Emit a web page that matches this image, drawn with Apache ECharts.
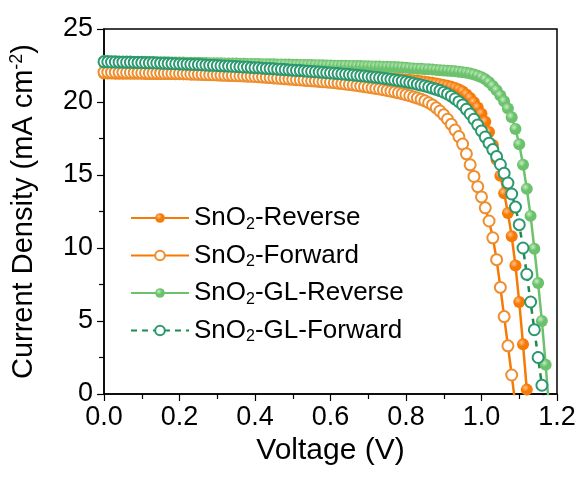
<!DOCTYPE html>
<html>
<head>
<meta charset="utf-8">
<script src="https://cdn.jsdelivr.net/npm/echarts@6/dist/echarts.min.js"></script>
<style>
  html, body { margin: 0; padding: 0; background: #fff; }
  #chart { width: 582px; height: 477px; }
</style>
</head>
<body>
<div id="chart"></div>
<script>
// voltage sweep (V), shared by all four scans
const voltage = [
    0.00, 0.01, 0.02, 0.03, 0.04, 0.05, 0.06, 0.07, 0.08, 0.09,
    0.10, 0.11, 0.12, 0.13, 0.14, 0.15, 0.16, 0.17, 0.18, 0.19,
    0.20, 0.21, 0.22, 0.23, 0.24, 0.25, 0.26, 0.27, 0.28, 0.29,
    0.30, 0.31, 0.32, 0.33, 0.34, 0.35, 0.36, 0.37, 0.38, 0.39,
    0.40, 0.41, 0.42, 0.43, 0.44, 0.45, 0.46, 0.47, 0.48, 0.49,
    0.50, 0.51, 0.52, 0.53, 0.54, 0.55, 0.56, 0.57, 0.58, 0.59,
    0.60, 0.61, 0.62, 0.63, 0.64, 0.65, 0.66, 0.67, 0.68, 0.69,
    0.70, 0.71, 0.72, 0.73, 0.74, 0.75, 0.76, 0.77, 0.78, 0.79,
    0.80, 0.81, 0.82, 0.83, 0.84, 0.85, 0.86, 0.87, 0.88, 0.89,
    0.90, 0.91, 0.92, 0.93, 0.94, 0.95, 0.96, 0.97, 0.98, 0.99,
    1.00, 1.01, 1.02, 1.03, 1.04, 1.05, 1.06, 1.07, 1.08, 1.09,
    1.10, 1.11, 1.12, 1.13, 1.14, 1.15, 1.16, 1.17, 1.18
];

// current density (mA cm-2) per scan
const snReverse = [
    21.95, 21.95, 21.95, 21.94, 21.94, 21.94, 21.94, 21.93, 21.93, 21.93,
    21.93, 21.92, 21.92, 21.92, 21.92, 21.91, 21.91, 21.91, 21.91, 21.90,
    21.90, 21.90, 21.90, 21.89, 21.89, 21.89, 21.89, 21.88, 21.88, 21.88,
    21.88, 21.87, 21.87, 21.87, 21.87, 21.86, 21.86, 21.86, 21.86, 21.85,
    21.85, 21.85, 21.84, 21.84, 21.84, 21.83, 21.83, 21.83, 21.82, 21.82,
    21.82, 21.81, 21.81, 21.80, 21.80, 21.79, 21.79, 21.78, 21.78, 21.77,
    21.77, 21.76, 21.75, 21.75, 21.74, 21.73, 21.72, 21.71, 21.70, 21.69,
    21.68, 21.67, 21.66, 21.65, 21.63, 21.62, 21.60, 21.59, 21.57, 21.55,
    21.53, 21.50, 21.48, 21.45, 21.42, 21.39, 21.35, 21.31, 21.27, 21.22,
    21.17, 21.11, 21.04, 20.96, 20.86, 20.72, 20.52, 20.28, 19.98, 19.62,
    19.20, 18.65, 17.95, 17.05, 16.05, 14.95, 13.75, 12.40, 10.80, 8.80,
    6.30, 3.40, 0.30, -2.90
];
const snForward = [
    22.05, 22.05, 22.04, 22.04, 22.03, 22.03, 22.02, 22.02, 22.01, 22.01,
    22.00, 22.00, 21.99, 21.99, 21.98, 21.98, 21.97, 21.97, 21.96, 21.96,
    21.95, 21.94, 21.93, 21.92, 21.91, 21.90, 21.89, 21.88, 21.87, 21.86,
    21.85, 21.84, 21.83, 21.82, 21.81, 21.80, 21.79, 21.78, 21.77, 21.76,
    21.75, 21.73, 21.71, 21.69, 21.67, 21.65, 21.63, 21.61, 21.59, 21.57,
    21.55, 21.53, 21.51, 21.49, 21.47, 21.45, 21.43, 21.41, 21.39, 21.37,
    21.35, 21.32, 21.29, 21.26, 21.23, 21.20, 21.17, 21.13, 21.09, 21.05,
    21.01, 20.97, 20.93, 20.89, 20.84, 20.79, 20.74, 20.69, 20.63, 20.57,
    20.50, 20.43, 20.35, 20.27, 20.18, 20.08, 19.95, 19.80, 19.60, 19.38,
    19.12, 18.82, 18.47, 18.08, 17.63, 17.12, 16.45, 15.70, 14.90, 14.20,
    13.50, 12.75, 11.85, 10.70, 9.20, 7.30, 5.30, 3.30, 1.30, -0.80
];
const glReverse = [
    22.80, 22.80, 22.79, 22.79, 22.78, 22.78, 22.77, 22.77, 22.76, 22.76,
    22.75, 22.75, 22.74, 22.74, 22.73, 22.73, 22.72, 22.72, 22.71, 22.71,
    22.70, 22.70, 22.69, 22.69, 22.68, 22.68, 22.67, 22.67, 22.66, 22.66,
    22.65, 22.65, 22.64, 22.64, 22.63, 22.63, 22.62, 22.62, 22.61, 22.61,
    22.60, 22.60, 22.59, 22.59, 22.58, 22.58, 22.57, 22.57, 22.56, 22.56,
    22.55, 22.55, 22.54, 22.54, 22.53, 22.53, 22.52, 22.52, 22.51, 22.50,
    22.50, 22.49, 22.49, 22.48, 22.48, 22.47, 22.47, 22.46, 22.46, 22.45,
    22.45, 22.44, 22.43, 22.43, 22.42, 22.41, 22.40, 22.39, 22.38, 22.36,
    22.34, 22.32, 22.30, 22.28, 22.27, 22.25, 22.24, 22.22, 22.20, 22.18,
    22.16, 22.14, 22.12, 22.10, 22.07, 22.04, 22.00, 21.95, 21.88, 21.80,
    21.70, 21.55, 21.35, 21.10, 20.80, 20.45, 20.05, 19.55, 18.95, 18.15,
    17.10, 15.70, 14.05, 12.20, 9.95, 7.60, 5.00, 2.00, -1.30
];
const glForward = [
    22.75, 22.75, 22.74, 22.74, 22.73, 22.73, 22.72, 22.72, 22.71, 22.70,
    22.70, 22.69, 22.68, 22.68, 22.67, 22.66, 22.65, 22.64, 22.63, 22.62,
    22.61, 22.60, 22.59, 22.58, 22.57, 22.56, 22.55, 22.53, 22.52, 22.51,
    22.50, 22.48, 22.47, 22.46, 22.45, 22.43, 22.42, 22.40, 22.39, 22.37,
    22.35, 22.34, 22.32, 22.30, 22.29, 22.27, 22.25, 22.24, 22.22, 22.20,
    22.18, 22.16, 22.15, 22.13, 22.11, 22.09, 22.07, 22.05, 22.03, 22.01,
    21.99, 21.97, 21.95, 21.92, 21.90, 21.88, 21.85, 21.83, 21.80, 21.78,
    21.75, 21.72, 21.69, 21.66, 21.62, 21.59, 21.55, 21.51, 21.47, 21.43,
    21.38, 21.33, 21.28, 21.22, 21.16, 21.10, 21.03, 20.95, 20.87, 20.78,
    20.67, 20.55, 20.40, 20.22, 20.02, 19.80, 19.50, 19.18, 18.82, 18.43,
    18.02, 17.60, 17.18, 16.74, 16.26, 15.72, 15.12, 14.45, 13.70, 12.80,
    11.60, 10.00, 8.20, 6.30, 4.40, 2.50, 0.60, -1.40
];

const seriesNames = ['SnO2-Reverse', 'SnO2-Forward', 'SnO2-GL-Reverse', 'SnO2-GL-Forward'];
const xTicks = [0, 0.2, 0.4, 0.6, 0.8, 1.0, 1.2];
const yTicks = [0, 5, 10, 15, 20, 25];

const FONT = "'Liberation Sans', Arial, sans-serif";

function pairUp(values) {
    return values.map((j, i) => [voltage[i], j]);
}

// shaded ball look for the filled markers
function ball(base, light) {
    return {
        type: 'radial', x: 0.38, y: 0.35, r: 0.7,
        colorStops: [
            { offset: 0, color: light },
            { offset: 0.45, color: base },
            { offset: 1, color: base }
        ]
    };
}

const chart = echarts.init(document.getElementById('chart'));

const option = {
    animation: false,
    backgroundColor: '#fff',
    grid: {
        left: 99, right: 25, top: 29, bottom: 83,
        show: true, borderColor: '#000', borderWidth: 1.5
    },
    legend: {
        orient: 'vertical',
        left: 125, top: 200,
        itemWidth: 58, itemHeight: 12, itemGap: 10,
        data: seriesNames,
        formatter: name => name.replace('SnO2', 'SnO{sub|2}'),
        textStyle: {
            fontFamily: FONT, fontSize: 26, color: '#000',
            rich: { sub: { fontFamily: FONT, fontSize: 16, color: '#000', padding: [13, 0, 0, 0] } }
        }
    },
    xAxis: {
        type: 'value', min: 0, max: 1.2, interval: 0.2,
        name: 'Voltage (V)', nameLocation: 'middle', nameGap: 42,
        nameTextStyle: { fontFamily: FONT, fontSize: 30, color: '#000' },
        axisLine: { lineStyle: { color: '#000', width: 1.5 } },
        axisTick: { inside: false, length: 7, lineStyle: { color: '#000', width: 1.2 } },
        minorTick: { show: true, splitNumber: 2, length: 5, lineStyle: { color: '#000', width: 1.2 } },
        splitLine: { show: false },
        axisLabel: {
            fontFamily: FONT, fontSize: 27, color: '#000', margin: 10,
            formatter: v => xTicks.includes(+v.toFixed(1)) ? v.toFixed(1) : ''
        }
    },
    yAxis: {
        type: 'value', min: 0, max: 25, interval: 5,
        name: 'Current Density (mA cm{sup|-2})', nameLocation: 'middle', nameGap: 64,
        nameTextStyle: {
            fontFamily: FONT, fontSize: 29, color: '#000',
            rich: { sup: { fontFamily: FONT, fontSize: 18, color: '#000', padding: [0, 0, 14, 0] } }
        },
        axisLine: { lineStyle: { color: '#000', width: 1.5 } },
        axisTick: { inside: false, length: 7, lineStyle: { color: '#000', width: 1.2 } },
        minorTick: { show: true, splitNumber: 2, length: 5, lineStyle: { color: '#000', width: 1.2 } },
        splitLine: { show: false },
        axisLabel: {
            fontFamily: FONT, fontSize: 27, color: '#000', margin: 11,
            formatter: v => yTicks.includes(v) ? String(v) : ''
        }
    },
    series: [
        {
            name: seriesNames[0], type: 'line', data: pairUp(snReverse),
            symbol: 'circle', symbolSize: 12,
            itemStyle: { color: ball('#F77A06', '#FFC58E') },
            lineStyle: { color: '#F77A06', width: 2.5 }
        },
        {
            name: seriesNames[1], type: 'line', data: pairUp(snForward),
            symbol: 'emptyCircle', symbolSize: 11,
            itemStyle: { color: '#EE8E2E', borderWidth: 1.5 },
            lineStyle: { color: '#F77A06', width: 2.5 }
        },
        {
            name: seriesNames[2], type: 'line', data: pairUp(glReverse),
            symbol: 'circle', symbolSize: 12,
            itemStyle: { color: ball('#6CC26C', '#C4EEC4') },
            lineStyle: { color: '#6CC26C', width: 2.5 }
        },
        {
            name: seriesNames[3], type: 'line', data: pairUp(glForward),
            symbol: 'emptyCircle', symbolSize: 11,
            itemStyle: { color: '#2C9870', borderWidth: 1.5 },
            lineStyle: { color: '#1E8A50', width: 2.5, type: [6, 5] }
        }
    ]
};

chart.setOption(option);
</script>
</body>
</html>
